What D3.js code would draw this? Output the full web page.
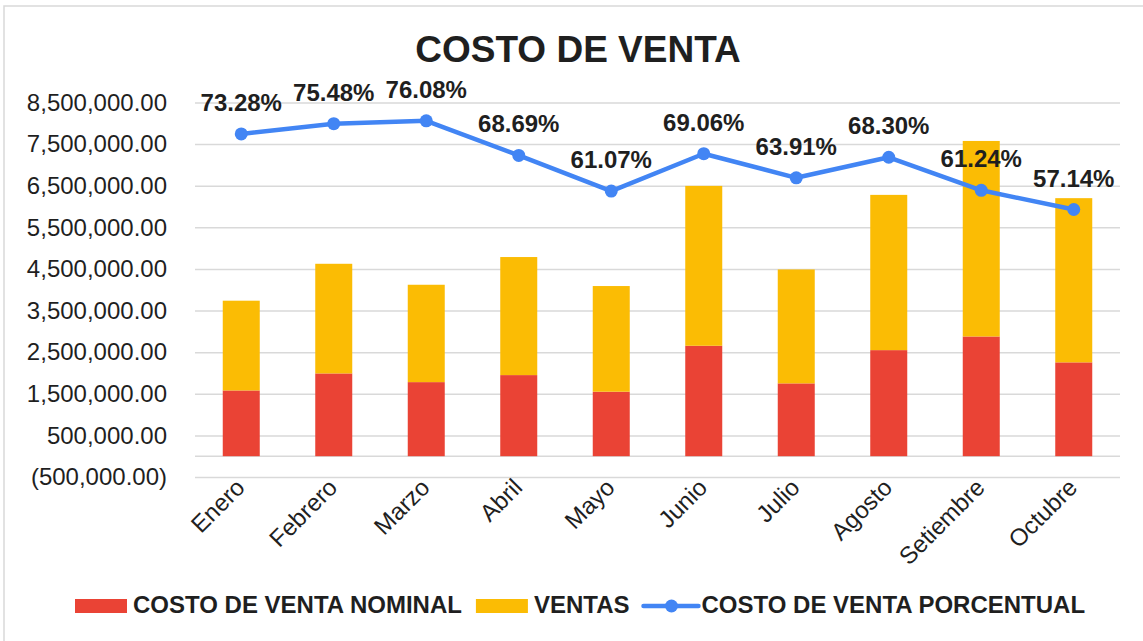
<!DOCTYPE html>
<html>
<head>
<meta charset="utf-8">
<script src="https://cdn.jsdelivr.net/npm/d3@7"></script>
<style>
  body { margin: 0; background: #fff; }
  svg { display: block; font-family: "Liberation Sans", Arial, sans-serif; }
</style>
</head>
<body>
<svg width="1143" height="641"></svg>
<script>
const months = ["Enero", "Febrero", "Marzo", "Abril", "Mayo", "Junio", "Julio", "Agosto", "Setiembre", "Octubre"];
const costo = [1580000, 1989000, 1780000, 1949000, 1550000, 2654000, 1750000, 2549000, 2877000, 2255000];
const ventas = [2157000, 2635000, 2340000, 2837000, 2539000, 3842000, 2738000, 3731000, 4699000, 3946000];
const pct = [73.28, 75.48, 76.08, 68.69, 61.07, 69.06, 63.91, 68.30, 61.24, 57.14];
const yTicks = [-500000, 500000, 1500000, 2500000, 3500000, 4500000, 5500000, 6500000, 7500000, 8500000];

const red = "#ea4335", yellow = "#fbbc04", blue = "#4285f4", ink = "#1f1f1f", grid = "#d9d9d9";

const svg = d3.select("svg");

// chart frame
svg.append("rect")
  .attr("x", 4).attr("y", 6).attr("width", 1160).attr("height", 660)
  .attr("fill", "none").attr("stroke", grid).attr("stroke-width", 1.5);

svg.append("text")
  .attr("x", 578).attr("y", 62)
  .attr("text-anchor", "middle")
  .attr("font-size", 37).attr("font-weight", "bold").attr("fill", ink)
  .text("COSTO DE VENTA");

const x = d3.scaleBand().domain(months).range([195, 1120]).paddingInner(0.6).paddingOuter(0.3);
const y = d3.scaleLinear().domain([-500000, 8500000]).range([477, 102.5]);
const y2 = d3.scaleLinear().domain([0, 0.8]).range([477, 102.5]);
const cx = m => x(m) + x.bandwidth() / 2;

const fmt = d3.format(",.2f");
const yAxis = d3.axisLeft(y)
  .tickValues(yTicks)
  .tickSize(-925)
  .tickPadding(28)
  .tickFormat(v => v < 0 ? "(" + fmt(-v) + ")" : fmt(v));

const ga = svg.append("g").attr("transform", "translate(195,0)").call(yAxis);
ga.select(".domain").remove();
ga.selectAll(".tick line").attr("stroke", grid).attr("stroke-width", 1.5);
ga.selectAll(".tick text").attr("font-size", 24).attr("fill", ink).attr("font-family", null);

// category axis line at zero
svg.append("line")
  .attr("x1", 195).attr("x2", 1120).attr("y1", y(0)).attr("y2", y(0))
  .attr("stroke", grid).attr("stroke-width", 1.5);

// stacked bars
const rows = months.map((m, i) => ({ month: m, costo: costo[i], ventas: ventas[i] }));
const stack = d3.stack().keys(["costo", "ventas"])(rows);
const colors = { costo: red, ventas: yellow };

svg.append("g").selectAll("g")
  .data(stack)
  .join("g")
  .attr("fill", s => colors[s.key])
  .selectAll("rect")
  .data(s => s)
  .join("rect")
  .attr("x", d => x(d.data.month))
  .attr("width", x.bandwidth())
  .attr("y", d => y(d[1]))
  .attr("height", d => y(d[0]) - y(d[1]));

// x labels
svg.append("g").selectAll("text")
  .data(months)
  .join("text")
  .attr("transform", m => `translate(${cx(m) + 5},489) rotate(-45)`)
  .attr("text-anchor", "end")
  .attr("font-size", 24).attr("fill", ink)
  .text(m => m);

// percentage line
const line = d3.line()
  .x((d, i) => cx(months[i]))
  .y(d => y2(d / 100));

svg.append("path")
  .datum(pct)
  .attr("d", line)
  .attr("fill", "none").attr("stroke", blue).attr("stroke-width", 4.5)
  .attr("stroke-linejoin", "round");

svg.append("g").selectAll("circle")
  .data(pct)
  .join("circle")
  .attr("cx", (d, i) => cx(months[i]))
  .attr("cy", d => y2(d / 100))
  .attr("r", 6.5)
  .attr("fill", blue);

svg.append("g").selectAll("text")
  .data(pct)
  .join("text")
  .attr("x", (d, i) => cx(months[i]))
  .attr("y", d => y2(d / 100) - 23)
  .attr("text-anchor", "middle")
  .attr("font-size", 24).attr("font-weight", "bold").attr("fill", ink)
  .text(d => d.toFixed(2) + "%");

// legend
const legend = [
  { name: "COSTO DE VENTA NOMINAL", color: red, type: "rect" },
  { name: "VENTAS", color: yellow, type: "rect" },
  { name: "COSTO DE VENTA PORCENTUAL", color: blue, type: "line" }
];
let lx = 75;
const ly = 606;
legend.forEach(l => {
  if (l.type === "rect") {
    svg.append("rect").attr("x", lx).attr("y", ly - 7).attr("width", 52).attr("height", 14).attr("fill", l.color);
  } else {
    svg.append("line").attr("x1", lx).attr("x2", lx + 55).attr("y1", ly).attr("y2", ly)
      .attr("stroke", l.color).attr("stroke-width", 4.5).attr("stroke-linecap", "round");
    svg.append("circle").attr("cx", lx + 28).attr("cy", ly).attr("r", 6.5).attr("fill", l.color);
  }
  const t = svg.append("text")
    .attr("x", lx + 58).attr("y", ly + 7)
    .attr("font-size", 24).attr("font-weight", "bold").attr("fill", ink)
    .text(l.name);
  lx += 58 + t.node().getComputedTextLength() + 14;
});
</script>
</body>
</html>
